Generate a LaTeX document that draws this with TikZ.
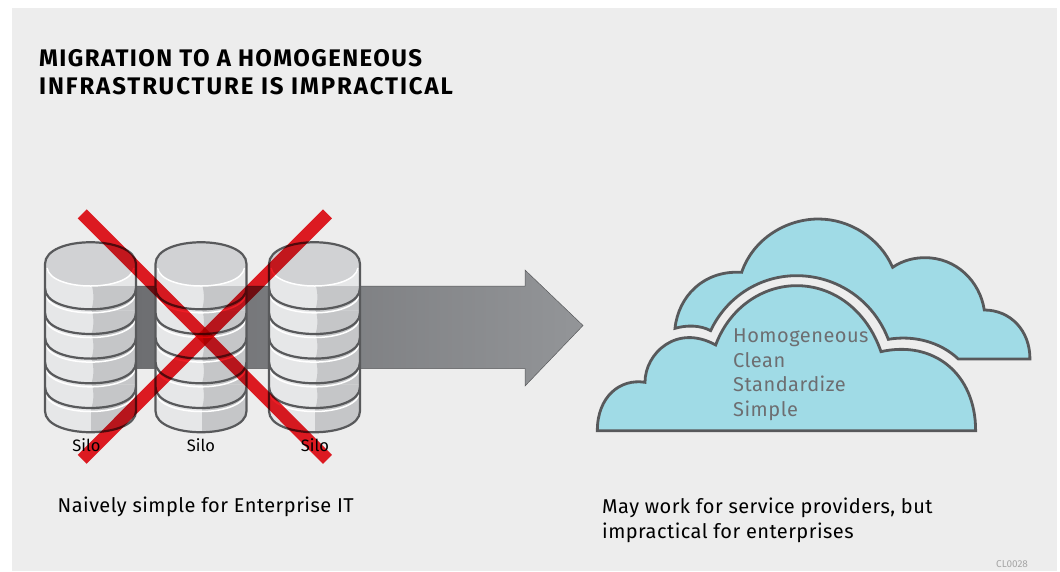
\documentclass[tikz,border=0pt]{standalone}
\usepackage{fontspec}
\setmainfont{Fira Sans}
\usetikzlibrary{calc}
\definecolor{bgc}{HTML}{EDEDED}
\definecolor{edgec}{HTML}{58595B}
\definecolor{lightc}{HTML}{E6E7E8}
\definecolor{darkc}{HTML}{C5C6C8}
\definecolor{topc}{HTML}{D1D2D4}
\definecolor{cloudc}{HTML}{A0DBE6}
\definecolor{redc}{HTML}{ED1C24}
\definecolor{greyt}{HTML}{6D6E71}
\definecolor{arrowend}{HTML}{939598}
\tikzset{
  cloudshape/.style={fill=cloudc,draw=edgec,line width=2.8pt,line join=miter},
  crossbar/.style={draw=redc,line width=12.7pt,blend mode=multiply},
  silolabel/.style={font=\fontsize{16.5}{16.5}\selectfont,text=black,anchor=base,inner sep=0pt},
  bodytext/.style={font=\fontsize{20}{26}\selectfont\addfontfeature{LetterSpace=2.3},text=black,anchor=base west,inner sep=0pt},
  titletext/.style={font=\fontsize{24}{28}\selectfont\bfseries,text=black,anchor=base west,inner sep=0pt},
  cloudtext/.style={font=\fontsize{20}{24}\selectfont\addfontfeature{LetterSpace=2.5},text=greyt,anchor=base west,inner sep=0pt},
}
\newcommand\siloshape[1]{%
  \begin{scope}[shift={(#1,0)}]
    \begin{scope}
      \clip (0,264) -- (0,411) .. controls (0,439.3) and (91,439.3) .. (91,411) -- (91,264) -- cycle;
      \fill[lightc] (0,250) rectangle (91,440);
      \foreach \yy in {286,310.6,335.2,359.8,384.4,409} {
        \fill[darkc] (47,\yy) .. controls (49,\yy+8) and (49,\yy+17) .. (46,\yy+24.6) -- (91,\yy+24.6) -- (91,\yy) -- cycle;
      }
      \fill[darkc] (46,409) rectangle (91,440);
      \foreach \yy in {288.3,313,337.6,362.3,387} {
        \draw[white,line width=1.5pt] (0,\yy+3.5) .. controls (0,\yy+31.5) and (91,\yy+31.5) .. (91,\yy+3.5);
        \draw[edgec,line width=2.2pt] (0,\yy) .. controls (0,\yy+28) and (91,\yy+28) .. (91,\yy);
      }
    \end{scope}
    \fill[topc] (0,264) .. controls (0,235) and (91,235) .. (91,264) .. controls (91,293) and (0,293) .. (0,264) -- cycle;
    \draw[white,line width=1.5pt] (2,268) .. controls (6,292) and (85,292) .. (89,268);
    \draw[edgec,line width=2.2pt] (0,411) .. controls (0,439.3) and (91,439.3) .. (91,411) -- (91,264) .. controls (91,235) and (0,235) .. (0,264) -- cycle;
  \end{scope}}
\begin{document}
\begin{tikzpicture}[x=1pt,y=-1pt]
\useasboundingbox (0,0) rectangle (1060,571);
\fill[white] (0,0) rectangle (1060,571);
\fill[bgc] (12,8) rectangle (1057,571);
% title
\node[titletext] (title1) at (39,66) {\addfontfeature{LetterSpace=6}MIGRATION TO A HOMOGENEOUS};
\node[titletext] (title2) at (39,94) {\addfontfeature{LetterSpace=7.9}INFRASTRUCTURE IS IMPRACTICAL};
% arrow
\path[draw=edgec,line width=0.5pt,left color=greyt,right color=arrowend,shading angle=90]
  (136,286) -- (525,286) -- (525,270) -- (583,325.5) -- (525,386) -- (525,368.7) -- (136,368.7) -- cycle;
% silos
\siloshape{45}
\siloshape{155.5}
\siloshape{269}
% cross
\draw[crossbar] (82.2,213.8) -- (327.5,459.3);
\draw[crossbar] (327.5,213.8) -- (82.2,459.3);
\node[silolabel] (s1) at (86.5,451) {Silo};
\node[silolabel] (s2) at (201,451) {Silo};
\node[silolabel] (s3) at (315,451) {Silo};
% clouds
\begin{scope}[shift={(590,210)},x=0.3333pt,y=-0.3333pt]
  \path[cloudshape] (255,355) .. controls (265,260) and (340,180) .. (455,187)
    .. controls (490,85) and (590,27) .. (685,27)
    .. controls (780,27) and (870,85) .. (908,172)
    .. controls (940,150) and (975,143) .. (1005,143)
    .. controls (1100,143) and (1170,215) .. (1183,300)
    .. controls (1260,300) and (1320,360) .. (1320,447)
    -- (1105,447)
    .. controls (1050,395) and (970,375) .. (895,388)
    .. controls (850,270) and (740,197) .. (620,197)
    .. controls (510,197) and (410,260) .. (362,362)
    .. controls (330,345) and (290,345) .. (255,355) -- cycle;
  \path[cloudshape] (22,662) .. controls (22,560) and (90,505) .. (165,517)
    .. controls (165,430) and (260,340) .. (377,405)
    .. controls (420,290) and (520,227) .. (620,227)
    .. controls (730,227) and (830,300) .. (873,425)
    .. controls (1030,390) and (1157,490) .. (1157,662) -- cycle;
\end{scope}
\node[cloudtext] (c1) at (733,342) {Homogeneous};
\node[cloudtext] (c2) at (733,367) {Clean};
\node[cloudtext] (c3) at (733,391) {Standardize};
\node[cloudtext] (c4) at (733,416) {Simple};
\node[bodytext] (left) at (57.5,512) {Naively simple for Enterprise IT};
\node[bodytext] (r1) at (602,513) {May work for service providers, but};
\node[bodytext] (r2) at (602,538) {impractical for enterprises};
\node[font=\fontsize{10}{10}\selectfont,text=black!35,anchor=base west,inner sep=0pt] (code) at (996,567) {CL0028};
\end{tikzpicture}
\end{document}
